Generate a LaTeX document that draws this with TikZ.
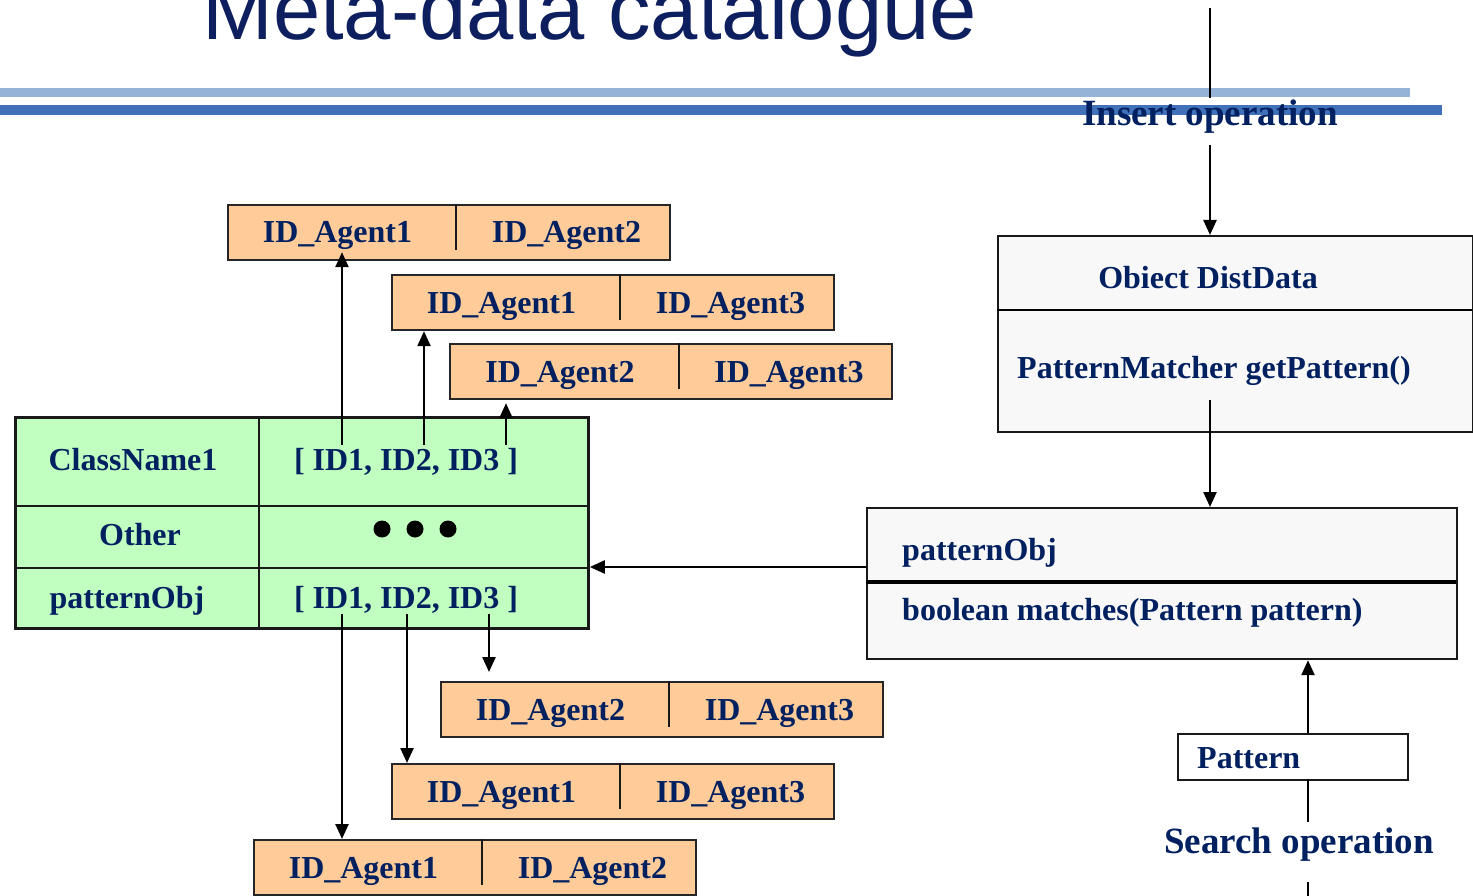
\documentclass[tikz,border=0pt]{standalone}
\usepackage{fontspec}
\setmainfont{Liberation Serif}
\newfontfamily\titlefont{Liberation Sans}
\usetikzlibrary{arrows.meta,calc}
\definecolor{navy}{RGB}{0,32,96}
\definecolor{titleblue}{RGB}{13,31,94}
\definecolor{barlight}{RGB}{149,179,215}
\definecolor{bardark}{RGB}{65,113,184}
\definecolor{orfill}{RGB}{255,204,153}
\definecolor{grfill}{RGB}{192,255,192}
\definecolor{clfill}{RGB}{248,248,248}

% two-cell agent box: name, left x, top y, divider x, left text, right text
\newcommand\agentpair[6]{%
  \node[orbox] (#1) at (#2,#3) {};
  \draw[divline] (#4,#3) -- (#4,#3+46);
  \node[txt, anchor=base] (#1a) at ({(#2+#4)/2-4},#3+39) {#5};
  \node[txt, anchor=base] (#1b) at ({(#4+#2+442)/2+4},#3+39) {#6};
}

\begin{document}
\begin{tikzpicture}[x=1pt,y=-1pt,
  txt/.style={font=\fontsize{32}{32}\selectfont\bfseries, text=navy, inner sep=0pt},
  optxt/.style={font=\fontsize{37}{37}\selectfont\bfseries, text=navy, inner sep=0pt},
  orbox/.style={draw=black!85, line width=2.2pt, fill=orfill, inner sep=0pt,
    anchor=north west, minimum width=442pt, minimum height=55pt},
  divline/.style={draw=black!90, line width=2.2pt},
  clbox/.style={draw=black!90, line width=2.2pt, fill=clfill, inner sep=0pt, anchor=north west},
  grid/.style={draw=black!90, line width=2.8pt},
  arr/.style={line width=2.4pt, -{Triangle[length=15pt,width=13pt]}},
  plain/.style={line width=2.4pt},
]
\useasboundingbox (0,0) rectangle (1473,896);
\clip (0,0) rectangle (1473,896);

% heading and rules
\node[font=\titlefont\fontsize{85}{85}\selectfont, text=titleblue, anchor=base west, inner sep=0pt]
  (title) at (202,40) {Meta-data catalogue};
\fill[barlight] (0,88) rectangle (1410,97);
\fill[bardark] (0,105) rectangle (1442,115);

% insert operation
\coordinate (instop) at (1210,8);
\node[optxt, anchor=base] (ins) at (1210,126) {Insert operation};
\draw[line width=1.3pt] (instop) -- (1210,98);

% class DistData
\node[clbox, minimum width=475pt, minimum height=196pt] (dist) at (997,235) {};
\draw[plain] (997,310) -- (1472,310);
\node[txt, anchor=base] (distname) at (1208,288) {Obiect DistData};
\node[txt, anchor=base west] (distop) at (1017,378) {PatternMatcher getPattern()};
\coordinate (insbot) at (1210,145);
\draw[arr] (insbot) -- (insbot |- dist.north);

% pattern object class
\node[clbox, minimum width=590pt, minimum height=151pt] (po) at (866,507) {};
\draw[line width=3.2pt] (866,582) -- (1456,582);
\node[txt, anchor=base west] (poname) at (902,560) {patternObj};
\node[txt, anchor=base west] (poop) at (902,620) {boolean matches(Pattern pattern)};
\coordinate (getp) at (1210,400);
\draw[arr] (getp) -- (getp |- po.north);

% pattern argument and search operation
\node[draw=black!90, line width=2.2pt, fill=white, anchor=north west, inner sep=0pt,
  minimum width=230pt, minimum height=46pt] (pat) at (1177,733) {};
\node[txt, anchor=base west] (patname) at (1197,768) {Pattern};
\coordinate (patup) at (1308,733);
\draw[arr] (patup) -- (patup |- po.south);
\node[optxt, anchor=base] (search) at (1299,853) {Search operation};
\coordinate (patdown) at (1308,779);
\draw[plain] (patdown) -- (1308,822);
\draw[plain] (1308,882) -- (1308,896);

% catalogue table
\node[draw=black!90, line width=2.8pt, fill=grfill, anchor=north west, inner sep=0pt,
  minimum width=573pt, minimum height=211pt] (tbl) at (14,416) {};
\draw[grid] (259,416) -- (259,627);
\draw[grid] (14,506) -- (587,506);
\draw[grid] (14,568) -- (587,568);
\node[txt, anchor=base] (c1) at (133,470) {ClassName1};
\node[txt, anchor=base] (ids1) at (406,470) {[ ID1, ID2, ID3 ]};
\node[txt, anchor=base] (c2) at (140,545) {Other};
\fill (382,529) circle (8.5) (415,529) circle (8.5) (448,529) circle (8.5);
\node[txt, anchor=base] (c3) at (127,608) {patternObj};
\node[txt, anchor=base] (ids3) at (406,608) {[ ID1, ID2, ID3 ]};

% patternObj feeds the catalogue
\coordinate (poin) at (866,567);
\draw[arr] (poin) -- (poin -| tbl.east);

% agent lists
\agentpair{u1}{227}{204}{456}{ID\_Agent1}{ID\_Agent2}
\agentpair{u2}{391}{274}{620}{ID\_Agent1}{ID\_Agent3}
\agentpair{u3}{449}{343}{679}{ID\_Agent2}{ID\_Agent3}
\agentpair{d1}{440}{681}{669}{ID\_Agent2}{ID\_Agent3}
\agentpair{d2}{391}{763}{620}{ID\_Agent1}{ID\_Agent3}
\agentpair{d3}{253}{839}{482}{ID\_Agent1}{ID\_Agent2}

% links from the ID lists
\coordinate (a1) at (342,445);
\coordinate (a2) at (424,445);
\coordinate (a3) at (506,445);
\draw[arr] (a1) -- ($(a1 |- u1.south)+(0,-9)$);
\draw[arr] (a2) -- (a2 |- u2.south);
\draw[arr] (a3) -- ($(a3 |- u3.south)+(0,3)$);
\coordinate (b1) at (489,614);
\coordinate (b2) at (407,614);
\coordinate (b3) at (342,614);
\draw[arr] (b1) -- ($(b1 |- d1.north)+(0,-9)$);
\draw[arr] (b2) -- (b2 |- d2.north);
\draw[arr] (b3) -- (b3 |- d3.north);
\end{tikzpicture}
\end{document}
